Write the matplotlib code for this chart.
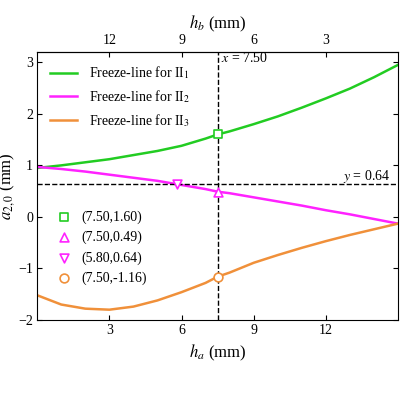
import matplotlib
matplotlib.use("Agg")
import matplotlib.pyplot as plt

plt.rcParams['font.family'] = ['Liberation Serif', 'DejaVu Serif']
plt.rcParams['mathtext.fontset'] = 'stix'

ha = [0, 1, 2, 3, 4, 5, 6, 7, 7.5, 8, 9, 10, 11, 12, 13, 14, 15]
g = [0.95, 1.0, 1.06, 1.12, 1.20, 1.28, 1.38, 1.52, 1.60, 1.66, 1.80, 1.95, 2.12, 2.30, 2.49, 2.71, 2.95]
m = [0.97, 0.93, 0.88, 0.82, 0.76, 0.70, 0.62, 0.54, 0.49, 0.46, 0.38, 0.30, 0.22, 0.13, 0.05, -0.04, -0.13]
o = [-1.52, -1.70, -1.78, -1.80, -1.74, -1.62, -1.46, -1.28, -1.16, -1.08, -0.89, -0.74, -0.60, -0.47, -0.35, -0.24, -0.13]
pts = [(7.5, 1.60, 's', '#22cc22', '(7.50,1.60)'),
       (7.5, 0.49, '^', '#ff22ff', '(7.50,0.49)'),
       (5.8, 0.64, 'v', '#ff22ff', '(5.80,0.64)'),
       (7.5, -1.16, 'o', '#f0903a', '(7.50,-1.16)')]

fig = plt.figure(figsize=(4, 4), dpi=100)
ax = fig.add_axes([0.093, 0.20, 0.902, 0.67])
l1, = ax.plot(ha, g, color='#22cc22', lw=1.8, label=r'Freeze-line for II$_1$')
l2, = ax.plot(ha, m, color='#ff22ff', lw=1.8, label=r'Freeze-line for II$_2$')
l3, = ax.plot(ha, o, color='#f0903a', lw=1.8, label=r'Freeze-line for II$_3$')
ax.axvline(7.5, color='k', ls='--', lw=1)
ax.axhline(0.64, color='k', ls='--', lw=1)
hs = []
for x, y, mk, c, lab in pts:
    h = ax.scatter([x], [y], marker=mk, s=40, facecolors='white', edgecolors=c, linewidths=1.2, zorder=5, label=lab)
    hs.append(h)
ax.text(7.65, 3.0, r'$x$ = 7.50', fontsize=10)
ax.text(12.7, 0.72, r'$y$ = 0.64', fontsize=10)
ax.set_xlim(0, 15)
ax.set_ylim(-2, 3.2)
ax.set_xticks([3, 6, 9, 12])
ax.set_yticks([-2, -1, 0, 1, 2, 3])
ax.set_xlabel(r'$h_a$ (mm)', fontsize=12)
ax.set_ylabel(r'$a_{2,0}$ (mm)', fontsize=12, labelpad=1)
ax.tick_params(direction='in', top=False, right=True, labelsize=10, pad=3)
leg1 = ax.legend(handles=[l1, l2, l3], loc='upper left', frameon=False, fontsize=10)
ax.add_artist(leg1)
ax.legend(handles=hs, loc='center left', bbox_to_anchor=(0.0, 0.27), frameon=False, fontsize=10, handletextpad=0.3)
top = ax.secondary_xaxis('top', functions=(lambda x: 15 - x, lambda x: 15 - x))
top.set_xticks([12, 9, 6, 3])
top.tick_params(direction='in', labelsize=10)
top.set_xlabel(r'$h_b$ (mm)', fontsize=12)
fig.savefig('out.png', dpi=100)
